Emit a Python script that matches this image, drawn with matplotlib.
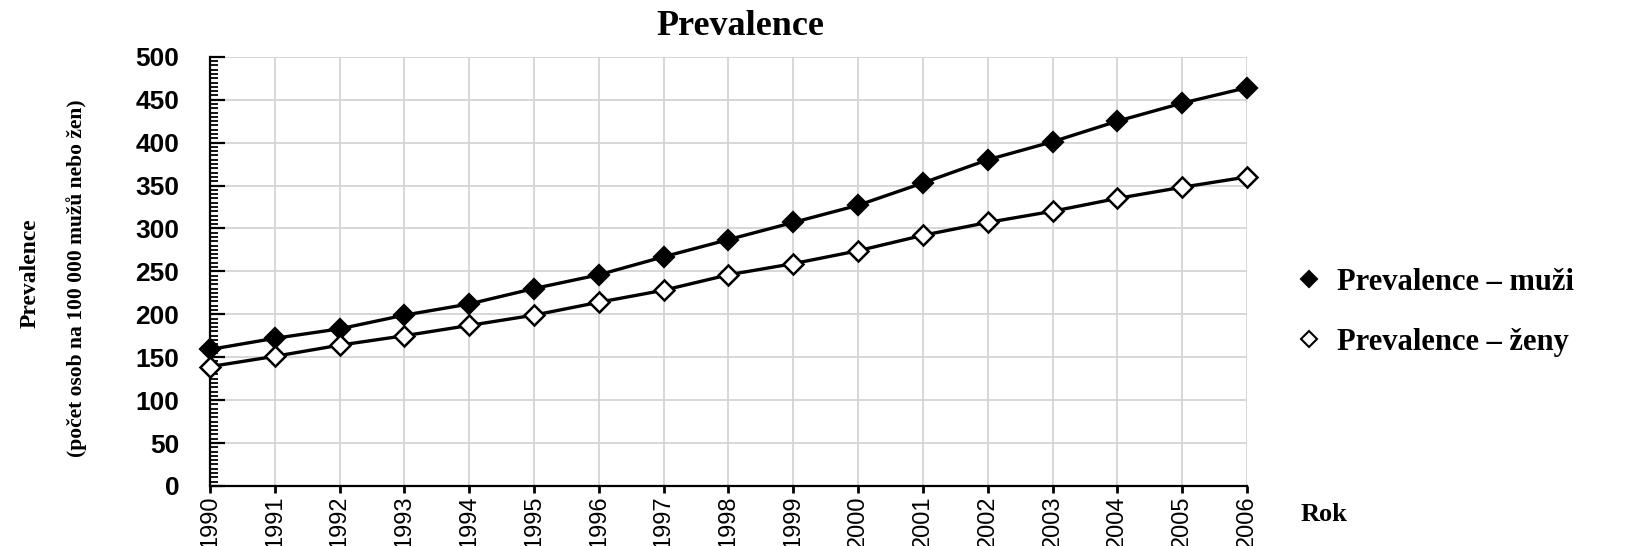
import matplotlib
matplotlib.use('Agg')
import matplotlib.pyplot as plt
from matplotlib.ticker import MultipleLocator
from matplotlib.lines import Line2D

# Data
years = list(range(1990, 2007))
muzi = [159, 172, 183, 199, 212, 230, 246, 267, 287, 307, 327, 353, 380, 401, 425, 446, 464]
zeny = [139, 151, 164, 175, 187, 199, 214, 228, 246, 259, 274, 292, 307, 320, 335, 348, 360]
label_muzi = 'Prevalence – muži'
label_zeny = 'Prevalence – ženy'

serif = 'Liberation Serif'
sans = 'Liberation Sans'

fig = plt.figure(figsize=(16.3, 5.46), dpi=100)
ax = fig.add_axes([0.1288, 0.110, 0.6362, 0.786])

ax.plot(years, muzi, color='black', lw=2.4, marker='D', ms=10,
        mfc='black', mec='black', mew=1.6, clip_on=False, zorder=3)
ax.plot(years, zeny, color='black', lw=2.4, marker='D', ms=10,
        mfc='white', mec='black', mew=1.8, clip_on=False, zorder=3)

ax.set_xlim(1990, 2006)
ax.set_ylim(0, 500)
ax.set_xticks(years)
ax.set_xticklabels([str(y) for y in years], rotation=90, fontfamily=sans, fontsize=17)
ax.yaxis.set_major_locator(MultipleLocator(50))
ax.yaxis.set_minor_locator(MultipleLocator(5))
for lab in ax.get_yticklabels():
    lab.set_fontfamily(sans)
    lab.set_fontweight('bold')
    lab.set_fontsize(19)

ax.grid(True, color='#d4d4d4', lw=1.3)
ax.set_axisbelow(True)
for s in ['top', 'right']:
    ax.spines[s].set_visible(False)
for s in ['left', 'bottom']:
    ax.spines[s].set_linewidth(1.6)

ax.tick_params(axis='y', which='major', direction='in', length=11, width=1.6, pad=22)
ax.tick_params(axis='y', which='minor', direction='in', length=6, width=1.3)
ax.tick_params(axis='x', which='major', direction='out', length=5, width=2, pad=2)

fig.text(0.454, 0.952, 'Prevalence', ha='center', va='center',
         fontfamily=serif, fontweight='bold', fontsize=26)
fig.text(0.0185, 0.50, 'Prevalence', rotation=90, ha='center', va='center',
         fontfamily=serif, fontweight='bold', fontsize=17)
fig.text(0.047, 0.49, '(počet osob na 100 000 mužů nebo žen)', rotation=90,
         ha='center', va='center', fontfamily=serif, fontweight='bold', fontsize=15.5)
fig.text(0.798, 0.057, 'Rok', ha='left', va='center',
         fontfamily=serif, fontweight='bold', fontsize=19)

handles = [
    Line2D([], [], ls='none', marker='D', ms=8, mfc='black', mec='black', mew=1.5),
    Line2D([], [], ls='none', marker='D', ms=8, mfc='white', mec='black', mew=1.5),
]
leg = fig.legend(handles, [label_muzi, label_zeny], loc='center left',
                 bbox_to_anchor=(0.779, 0.428), frameon=False, handlelength=0.8,
                 handletextpad=0.5, labelspacing=1.0,
                 prop={'family': serif, 'weight': 'bold', 'size': 22})

fig.savefig('out.png', dpi=100)
